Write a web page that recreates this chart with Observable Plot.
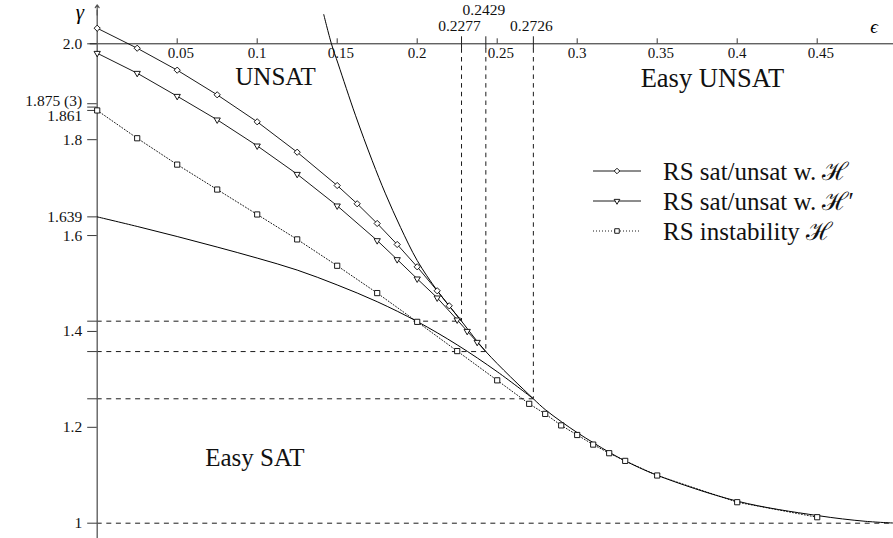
<!DOCTYPE html>
<html><head><meta charset="utf-8">
<script src="https://cdn.jsdelivr.net/npm/d3@7"></script>
<script src="https://cdn.jsdelivr.net/npm/@observablehq/plot@0.6"></script>
<style>body{margin:0;background:#fff;} #chart svg{display:block;}</style>
</head><body><div id="chart"></div>
<script>
// ---------- data ----------
const xTicks = [0.05, 0.1, 0.15, 0.2, 0.25, 0.3, 0.35, 0.4, 0.45];
const xTickLabels = ["0.05", "0.1", "0.15", "0.2", "0.25", "0.3", "0.35", "0.4", "0.45"];
const yTicks = [1, 1.2, 1.4, 1.6, 1.8, 2.0];
const yTickLabels = ["1", "1.2", "1.4", "1.6", "1.8", "2.0"];
const yExtraTicks = [1.639, 1.861, 1.868, 1.875];
const critX = [0.2277, 0.2429, 0.2726];
const critY = [1.4214, 1.358, 1.2595];
const critLabels = ["0.2277", "0.2429", "0.2726"];

// RS sat/unsat w. H (diamonds)
const diamondX = [0, 0.025, 0.05, 0.075, 0.1, 0.125, 0.15, 0.1625, 0.175, 0.1875, 0.2, 0.2125, 0.22];
const diamondY = [2.0325, 1.9908, 1.945, 1.8936, 1.8373, 1.7739, 1.7044, 1.6663, 1.6252, 1.5814, 1.5348, 1.4848, 1.4535];
// RS sat/unsat w. H' (triangles)
const triX = [0, 0.025, 0.05, 0.075, 0.1, 0.125, 0.15, 0.175, 0.1875, 0.2, 0.2125, 0.225, 0.23125, 0.2375];
const triY = [1.9804, 1.9387, 1.8907, 1.8415, 1.7872, 1.728, 1.6621, 1.5897, 1.5501, 1.5098, 1.4702, 1.4243, 1.4005, 1.3776];
// RS instability H (squares)
const sqX = [0, 0.025, 0.05, 0.075, 0.1, 0.125, 0.15, 0.175, 0.2, 0.225, 0.25, 0.27, 0.28, 0.29, 0.30, 0.31, 0.32, 0.33, 0.35, 0.40, 0.45];
const sqY = [1.861, 1.803, 1.748, 1.696, 1.644, 1.592, 1.537, 1.480, 1.420, 1.359, 1.298, 1.249, 1.228, 1.204, 1.184, 1.164, 1.146, 1.130, 1.0995, 1.0438, 1.0125];
// Easy-SAT boundary (lower solid curve)
const lowX = [0, 0.025, 0.05, 0.075, 0.1, 0.125, 0.15, 0.175, 0.2, 0.225, 0.25, 0.2726];
const lowY = [1.639, 1.619, 1.598, 1.576, 1.553, 1.528, 1.497, 1.462, 1.4207, 1.372, 1.316, 1.2595];
// UNSAT boundary (steep solid curve, continuing to gamma = 1)
const steepX = [0.1416, 0.1464, 0.1506, 0.1614, 0.1719, 0.1802, 0.1896, 0.2, 0.2125, 0.2277, 0.2429, 0.2726, 0.28, 0.29, 0.30, 0.31, 0.32, 0.33, 0.35, 0.40, 0.45, 0.48, 0.5];
const steepY = [2.061, 2.0, 1.958, 1.851, 1.756, 1.687, 1.617, 1.548, 1.4854, 1.4214, 1.358, 1.2595, 1.237, 1.212, 1.189, 1.168, 1.148, 1.130, 1.100, 1.046, 1.016, 1.004, 1.0];

const seriesNames = ["RS sat/unsat w. \u210B", "RS sat/unsat w. \u210B\u2032", "RS instability \u210B"];

// ---------- helpers ----------
const zip = (xs, ys) => xs.map((x, i) => ({x, y: ys[i]}));
const diamonds = zip(diamondX, diamondY);
const tris = zip(triX, triY);
const squares = zip(sqX, sqY);
const crit = critX.map((x, i) => ({x, y: critY[i], label: critLabels[i]}));
const diamondLine = diamonds.concat([{x: critX[0], y: critY[0]}]);
const triLine = tris.concat([{x: critX[1], y: critY[1]}]);

const X0 = 96.7, PX = 1600, Y1 = 522.7, PY = 479.4;
const hx = px => px / PX, hy = px => px / PY;
const dash = "5,4.6";
const font = "Liberation Serif, DejaVu Serif, serif";

const plot = Plot.plot({
  width: 893, height: 538,
  marginLeft: 0, marginRight: 0, marginTop: 0, marginBottom: 0,
  x: {domain: [0, 0.5], range: [X0, X0 + 0.5 * PX], axis: null},
  y: {domain: [1, 2], range: [Y1, Y1 - PY], axis: null},
  style: {fontFamily: font, fontSize: "15px", background: "white", color: "black"},
  marks: [
    // dashed guides
    Plot.ruleY([1], {x1: 0, x2: 0.5, stroke: "black", strokeWidth: 0.9, strokeDasharray: dash}),
    Plot.ruleY(crit, {y: "y", x1: 0, x2: "x", stroke: "black", strokeWidth: 0.9, strokeDasharray: dash}),
    Plot.ruleX(crit, {x: "x", y1: 2 + hy(-5), y2: "y", stroke: "black", strokeWidth: 0.9, strokeDasharray: "4.5,4.2"}),
    // axes
    Plot.ruleY([2], {x1: -hx(7), x2: 0.5, stroke: "#222", strokeWidth: 1}),
    Plot.ruleX([0], {y1: 0.965, y2: 2.07, stroke: "#555", strokeWidth: 1.3}),
    Plot.arrow([0], {x1: 0, x2: 0, y1: 2.06, y2: 2.081, stroke: "#555", strokeWidth: 1.2, headLength: 6, headAngle: 70}),
    Plot.ruleX(xTicks, {x: d => d, y1: 2, y2: 2 + hy(5), stroke: "#222", strokeWidth: 0.9}),
    Plot.ruleX(critX, {x: d => d, y1: 2 - hy(5.5), y2: 2 + hy(7), stroke: "#222", strokeWidth: 1}),
    Plot.ruleY(yTicks.concat(yExtraTicks, critY), {y: d => d, x1: -hx(9.5), x2: 0, stroke: "#222", strokeWidth: 0.9}),
    // curves
    Plot.line(zip(lowX, lowY), {x: "x", y: "y", curve: "catmull-rom", stroke: "black", strokeWidth: 1}),
    Plot.line(zip(steepX, steepY), {x: "x", y: "y", curve: "catmull-rom", stroke: "black", strokeWidth: 1}),
    Plot.line(diamondLine, {x: "x", y: "y", stroke: "black", strokeWidth: 0.9}),
    Plot.line(triLine, {x: "x", y: "y", stroke: "black", strokeWidth: 0.9}),
    Plot.line(squares, {x: "x", y: "y", stroke: "black", strokeWidth: 0.9, strokeDasharray: "1,2"}),
    Plot.dot(diamonds, {x: "x", y: "y", symbol: "diamond2", r: 2.8, fill: "white", stroke: "black", strokeWidth: 0.9}),
    Plot.dot(tris, {x: "x", y: "y", symbol: "triangle2", rotate: 180, r: 3.0, fill: "white", stroke: "black", strokeWidth: 0.9}),
    Plot.dot(squares, {x: "x", y: "y", symbol: "square2", r: 3.3, fill: "white", stroke: "black", strokeWidth: 0.9}),
    // tick labels
    Plot.text(xTicks, {x: d => d, y: () => 2, text: (d, i) => xTickLabels[i], textAnchor: "start", dx: -9.5, dy: 9.5, fontSize: 15, fill: "#111"}),
    Plot.text(yTicks, {x: () => 0, y: d => d, text: (d, i) => yTickLabels[i], textAnchor: "end", dx: -15, fontSize: 15.5, fill: "#111", ariaLabel: "spaced"}),
    Plot.text([1.639], {x: () => 0, y: d => d, text: d => d.toFixed(3), textAnchor: "end", dx: -15, fontSize: 15.5, fill: "#111", ariaLabel: "spaced"}),
    Plot.text([1.861], {x: () => 0, y: d => d, text: d => d.toFixed(3), textAnchor: "end", dx: -15, dy: 6, fontSize: 15.5, fill: "#111", ariaLabel: "spaced"}),
    Plot.text([1.875], {x: () => 0, y: d => d, text: d => d.toFixed(3) + " (3)", textAnchor: "end", dx: -15, dy: -3, fontSize: 15.5, fill: "#111", ariaLabel: "spaced"}),
    Plot.text(crit.filter((d, i) => i !== 1), {x: "x", y: () => 2, text: "label", dx: -2, dy: -18, fontSize: 15.5, fill: "#111", ariaLabel: "spaced"}),
    Plot.text(crit.filter((d, i) => i === 1), {x: "x", y: () => 2, text: "label", dx: -2, dy: -33.5, fontSize: 15.5, fill: "#111", ariaLabel: "spaced"}),
    // region labels
    Plot.text(["UNSAT"], {x: () => 0.1115, y: () => 1.931, text: d => d, fontSize: 25, fill: "#111"}),
    Plot.text(["Easy UNSAT"], {x: () => 0.3845, y: () => 1.928, text: d => d, fontSize: 26.5, fill: "#111"}),
    Plot.text(["Easy SAT"], {x: () => 0.0985, y: () => 1.137, text: d => d, fontSize: 25, fill: "#111"})
  ]
});

d3.select(plot).selectAll('g[aria-label="spaced"] text').style("letter-spacing", "2px");

// axis names
const svg = d3.select(plot);
svg.append("text").attr("x", 80).attr("y", 19).attr("text-anchor", "middle")
  .style("font-family", font).style("font-style", "italic").style("font-size", "21px").text("\u03B3");
svg.append("text").attr("x", 874).attr("y", 33).attr("text-anchor", "middle")
  .style("font-family", font).style("font-style", "italic").style("font-size", "19px").text("\u03F5");

// legend
const sym = [d3.symbolDiamond2, d3.symbolTriangle2, d3.symbolSquare2];
const areas = [Math.PI * 2.5 * 2.5, Math.PI * 2.7 * 2.7, Math.PI * 2.9 * 2.9];
const lg = svg.append("g");
seriesNames.forEach((name, i) => {
  const y = 171 + 30 * i;
  lg.append("line").attr("x1", 593).attr("x2", 641).attr("y1", y).attr("y2", y)
    .attr("stroke", "black").attr("stroke-width", 0.9)
    .attr("stroke-dasharray", i === 2 ? "1,2" : null);
  lg.append("path").attr("d", d3.symbol(sym[i], areas[i])())
    .attr("transform", `translate(617,${y})` + (i === 1 ? " rotate(180)" : ""))
    .attr("fill", "white").attr("stroke", "black").attr("stroke-width", 0.9);
  lg.append("text").attr("x", 663).attr("y", y).attr("dy", "0.35em").attr("text-anchor", "start")
    .style("font-family", font).style("font-size", "25px").attr("fill", "#111").text(name);
});

document.getElementById("chart").appendChild(plot);
</script>
</body></html>
